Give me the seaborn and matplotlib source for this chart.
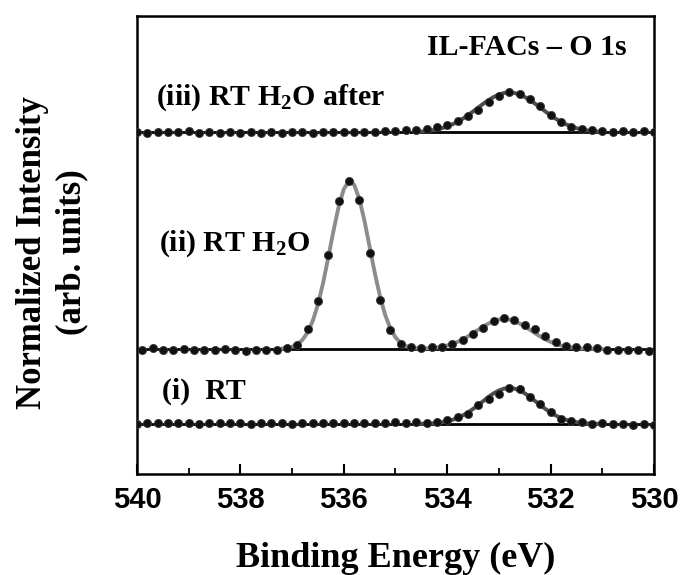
import matplotlib
matplotlib.use("Agg")
import matplotlib.pyplot as plt
import seaborn as sns
import pandas as pd
from matplotlib.ticker import MultipleLocator

sns.set_theme(style="white")
plt.rcParams["font.family"] = ["Liberation Serif", "DejaVu Serif"]
plt.rcParams["mathtext.fontset"] = "custom"
plt.rcParams["mathtext.rm"] = "Liberation Serif:bold"
plt.rcParams["mathtext.it"] = "Liberation Serif:bold"
plt.rcParams["mathtext.bf"] = "Liberation Serif:bold"
plt.rcParams["text.color"] = "black"
plt.rcParams["axes.labelcolor"] = "black"
plt.rcParams["xtick.color"] = "black"
plt.rcParams["axes.edgecolor"] = "black"

# ---------------- data ----------------
# binding energies of the measured points (eV)
energy_even = [540.0, 539.8, 539.6, 539.4, 539.2, 539.0, 538.8, 538.6, 538.4, 538.2,
               538.0, 537.8, 537.6, 537.4, 537.2, 537.0, 536.8, 536.6, 536.4, 536.2,
               536.0, 535.8, 535.6, 535.4, 535.2, 535.0, 534.8, 534.6, 534.4, 534.2,
               534.0, 533.8, 533.6, 533.4, 533.2, 533.0, 532.8, 532.6, 532.4, 532.2,
               532.0, 531.8, 531.6, 531.4, 531.2, 531.0, 530.8, 530.6, 530.4, 530.2,
               530.0]
energy_odd = [539.9, 539.7, 539.5, 539.3, 539.1, 538.9, 538.7, 538.5, 538.3, 538.1,
              537.9, 537.7, 537.5, 537.3, 537.1, 536.9, 536.7, 536.5, 536.3, 536.1,
              535.9, 535.7, 535.5, 535.3, 535.1, 534.9, 534.7, 534.5, 534.3, 534.1,
              533.9, 533.7, 533.5, 533.3, 533.1, 532.9, 532.7, 532.5, 532.3, 532.1,
              531.9, 531.7, 531.5, 531.3, 531.1, 530.9, 530.7, 530.5, 530.3, 530.1]

# (i) RT  -- measured points (above its baseline)
data_i = [0.3, 0.8, 0.5, 1.0, 0.6, 0.9, 0.4, 0.7, 1.1, 0.5,
          0.8, 0.3, 0.9, 0.6, 1.0, 0.4, 0.8, 1.2, 0.6, 0.9,
          0.5, 1.1, 0.7, 1.3, 0.8, 1.5, 1.2, 1.6, 1.2, 2.4,
          4.1, 7.4, 9.5, 18.6, 24.5, 29.5, 36.1, 34.8, 27.0, 20.3,
          11.8, 5.1, 3.4, 1.7, 0.3, 0.5, -0.4, 0.3, -0.6, -0.2,
          -0.8]
# (ii) RT H2O -- measured points
data_ii = [-1.0, 0.5, -0.8, -1.5, -0.4, -1.2, -0.6, -1.4, 0.3, -0.7,
           -1.6, -1.3, -1.5, -1.1, 1.2, 4.0, 19.5, 48.0, 93.5, 148.0,
           167.5, 149.0, 96.0, 48.5, 18.5, 5.0, 1.8, 1.2, 1.6, 2.4,
           4.5, 8.8, 15.0, 21.0, 27.5, 30.5, 29.0, 23.5, 19.5, 12.5,
           6.5, 3.0, 1.5, 1.8, 0.5, -0.8, -1.5, -0.9, -1.3, -1.8]
# (iii) RT H2O after -- measured points
data_iii = [0.2, -0.5, 0.4, 0.6, 0.3, 1.6, -0.9, 0.2, -0.3, 0.5,
            -0.2, 0.4, -0.1, 0.3, -0.4, 0.2, 0.5, -0.2, 0.3, 0.6,
            0.1, 0.4, 0.2, 0.9, 1.3, 1.8, 2.4, 2.5, 3.4, 5.0,
            7.8, 11.5, 16.0, 22.5, 30.0, 36.5, 40.0, 38.0, 33.0, 26.0,
            17.5, 10.5, 5.8, 3.2, 2.0, 1.4, 0.8, 1.5, 0.6, 1.2,
            0.3]

# fitted envelopes
fit_energy_ii = [537.2, 537.1, 537.0, 536.9, 536.8, 536.7, 536.6, 536.5, 536.4, 536.3,
                 536.2, 536.1, 536.0, 535.9, 535.8, 535.7, 535.6, 535.5, 535.4, 535.3,
                 535.2, 535.1, 535.0, 534.9, 534.8, 534.7, 534.6, 534.5, 534.4, 534.3,
                 534.2, 534.1, 534.0, 533.9, 533.8, 533.7, 533.6, 533.5, 533.4, 533.3,
                 533.2, 533.1, 533.0, 532.9, 532.8, 532.7, 532.6, 532.5, 532.4, 532.3,
                 532.2, 532.1, 532.0, 531.9, 531.8, 531.7, 531.6, 531.5, 531.4, 531.3,
                 531.2, 531.1, 531.0]
fit_ii = [0.4, 1.0, 2.2, 4.6, 9.1, 16.5, 28.1, 44.6, 66.1, 91.5,
          118.0, 142.2, 159.9, 167.8, 164.3, 150.2, 128.2, 102.1, 75.9, 52.7,
          34.1, 20.6, 11.6, 6.1, 3.0, 1.5, 0.8, 0.5, 0.6, 0.9,
          1.5, 2.3, 3.5, 5.0, 7.1, 9.6, 12.5, 15.8, 19.2, 22.5,
          25.5, 27.9, 29.5, 30.0, 29.5, 27.9, 25.5, 22.5, 19.2, 15.8,
          12.5, 9.6, 7.1, 5.0, 3.5, 2.3, 1.5, 0.9, 0.5, 0.3,
          0.2, 0.1, 0.0]
fit_energy_small = [534.6, 534.5, 534.4, 534.3, 534.2, 534.1, 534.0, 533.9, 533.8, 533.7,
                    533.6, 533.5, 533.4, 533.3, 533.2, 533.1, 533.0, 532.9, 532.8, 532.7,
                    532.6, 532.5, 532.4, 532.3, 532.2, 532.1, 532.0, 531.9, 531.8, 531.7,
                    531.6, 531.5, 531.4, 531.3, 531.2, 531.1, 531.0]
fit_i = [0.1, 0.2, 0.4, 0.6, 1.1, 1.8, 2.8, 4.1, 6.0, 8.5,
         11.5, 15.0, 18.9, 23.0, 27.1, 30.7, 33.5, 35.4, 36.0, 35.4,
         33.5, 30.7, 27.1, 23.0, 18.9, 15.0, 11.5, 8.5, 6.0, 4.1,
         2.8, 1.8, 1.1, 0.6, 0.4, 0.2, 0.1]
fit_iii = [0.6, 0.9, 1.4, 2.1, 3.0, 4.3, 6.0, 8.1, 10.7, 13.7,
           17.2, 21.0, 24.9, 28.8, 32.4, 35.5, 37.9, 39.5, 40.0, 39.5,
           37.9, 35.5, 32.4, 28.8, 24.9, 21.0, 17.2, 13.7, 10.7, 8.1,
           6.0, 4.3, 3.0, 2.1, 1.4, 0.9, 0.6]

# vertical offsets of the stacked spectra
offsets = {"i": 50.0, "ii": 125.0, "iii": 341.5}
xticks = [540, 538, 536, 534, 532, 530]

# ---------------- figure ----------------
fig = plt.figure(figsize=(6.84, 5.75), dpi=100)
ax = fig.add_axes([0.2003, 0.1757, 0.7558, 0.7965])

series = [
    ("i", energy_even, data_i, fit_energy_small, fit_i, "#4d4d4d"),
    ("ii", energy_odd, data_ii, fit_energy_ii, fit_ii, "#8c8c8c"),
    ("iii", energy_even, data_iii, fit_energy_small, fit_iii, "#4d4d4d"),
]

for key, ex, ey, fx, fy, fcol in series:
    off = offsets[key]
    ax.axhline(off, color="black", lw=2.0, zorder=2)
    fdf = pd.DataFrame({"E": fx, "I": [v + off for v in fy]})
    sns.lineplot(data=fdf, x="E", y="I", ax=ax, color=fcol, lw=2.8,
                 zorder=3, sort=False, estimator=None)
    ddf = pd.DataFrame({"E": ex, "I": [v + off for v in ey]})
    sns.scatterplot(data=ddf, x="E", y="I", ax=ax, color="#111111", s=34,
                    edgecolor="#3a3a3a", linewidth=0.6, zorder=4)

ax.set_xlim(540, 530)
ax.set_ylim(0, 458)
ax.set_xticks(xticks)
ax.set_xticklabels([str(t) for t in xticks], fontfamily="Liberation Sans",
                   fontweight="bold", fontsize=21, color="black")
ax.xaxis.set_minor_locator(MultipleLocator(1))
ax.tick_params(axis="x", which="major", direction="in", length=7, width=1.5,
               bottom=True, top=False, pad=9, colors="black")
ax.tick_params(axis="x", which="minor", direction="in", length=4, width=1.3,
               bottom=True, top=False, colors="black")
ax.set_yticks([])
for sp in ax.spines.values():
    sp.set_color("black")
    sp.set_linewidth(1.8)

ax.set_xlabel("Binding Energy (eV)", fontsize=26, fontweight="bold", color="black")
ax.xaxis.set_label_coords(0.5, -0.148)
ax.set_ylabel("Normalized Intensity\n(arb. units)", fontsize=25,
              fontweight="bold", linespacing=1.25, color="black")
ax.yaxis.set_label_coords(-0.095, 0.484)

ax.text(539.63, 369, r"(iii) RT H$_{2}$O after", fontsize=21.5, fontweight="bold",
        color="black")
ax.text(539.58, 223, r"(ii) RT H$_{2}$O", fontsize=21.5, fontweight="bold",
        color="black")
ax.text(539.52, 75, "(i)  RT", fontsize=21.5, fontweight="bold", color="black")
ax.text(530.52, 419, "IL-FACs \u2013 O 1s", fontsize=21.5, fontweight="bold",
        ha="right", color="black")

fig.savefig("out.png", dpi=100)
